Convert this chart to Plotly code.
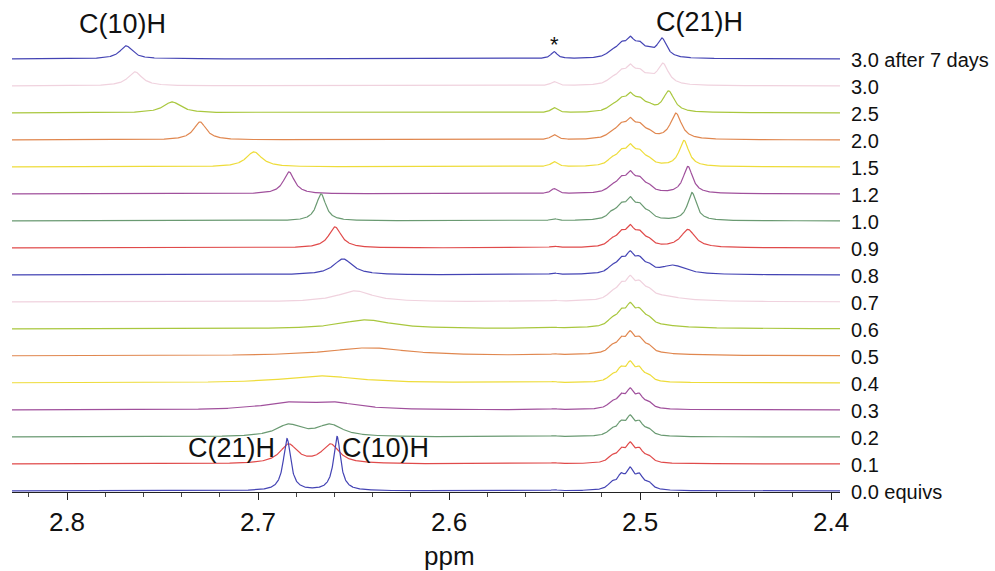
import numpy as np
import plotly.graph_objects as go

# ---------------- data ----------------
labels = ["0.0 equivs", "0.1", "0.2", "0.3", "0.4", "0.5", "0.6", "0.7", "0.8",
          "0.9", "1.0", "1.2", "1.5", "2.0", "2.5", "3.0", "3.0 after 7 days"]

# C(10)H resonance per spectrum: position (ppm), intensity, line width (ppm)
c10_ppm = [2.6586, 2.6620, 2.6623, 2.6600, 2.6670, 2.6420, 2.6435, 2.6492, 2.6555,
           2.6597, 2.6670, 2.6838, 2.7021, 2.7304, 2.7450, 2.7644, 2.7690]
c10_int = [54, 19, 11.6, 6.3, 7, 8, 9, 11, 16, 21, 27, 22, 15, 18, 11, 14, 13]
c10_fwhm = [0.0044, 0.011, 0.016, 0.030, 0.045, 0.050, 0.032, 0.022, 0.012,
            0.008, 0.006, 0.007, 0.010, 0.008, 0.011, 0.009, 0.008]

# C(21)H resonance per spectrum
c21_ppm = [2.6848, 2.6840, 2.6840, 2.6850, 2.6700, 2.5000, 2.4950, 2.4900, 2.4827,
           2.4749, 2.4728, 2.4749, 2.4770, 2.4812, 2.4850, 2.4880, 2.4885]
c21_int = [52, 19, 11.6, 6.3, 0, 2, 3, 5, 9, 18, 28, 27, 26, 26, 21, 21, 19]
c21_fwhm = [0.0046, 0.011, 0.016, 0.030, 0.040, 0.050, 0.040, 0.030, 0.016,
            0.009, 0.0055, 0.006, 0.006, 0.007, 0.007, 0.007, 0.006]

# residual DMSO quintet (~2.50 ppm)
dmso_ppm = [2.5148, 2.5100, 2.5052, 2.5004, 2.4956]
dmso_rel = [1, 2, 3, 2, 1]
dmso_int = [24, 22, 22, 22, 22, 23, 24, 24, 23, 23, 24, 23, 23, 22, 20, 21, 22]
dmso_fwhm = [0.0048, 0.005, 0.005, 0.005, 0.005, 0.0052, 0.0054, 0.0054, 0.0054,
             0.0055, 0.0055, 0.0056, 0.0056, 0.0057, 0.0057, 0.0057, 0.0057]

# small impurity peak marked with *
star_ppm = 2.5450
star_int = [1, 1, 1, 1, 1, 1, 1, 1, 1.5, 1.5, 2, 5, 5, 5, 5, 4, 7]

colors = ["#4444b4", "#e04a4a", "#6a9a72", "#a0509c", "#eedc3a", "#e0874f",
          "#a9c73e", "#f0d2de"]

# ---------------- build spectra ----------------
SPACING = 27.0  # intensity units between stacked spectra
x = np.linspace(2.8288, 2.3953, 2600)


def lor(x0, h, w):
    return h / (1.0 + ((x - x0) / (w / 2.0)) ** 2)


fig = go.Figure()
n = len(labels)
for i in reversed(range(n)):
    dm = sum(lor(p, r, dmso_fwhm[i]) for p, r in zip(dmso_ppm, dmso_rel))
    dm = dm / dm.max() * dmso_int[i]
    y = (lor(c10_ppm[i], c10_int[i], c10_fwhm[i])
         + lor(c21_ppm[i], c21_int[i], c21_fwhm[i])
         + dm + lor(star_ppm, star_int[i], 0.004))
    fig.add_trace(go.Scatter(x=x, y=i + y / SPACING, mode="lines",
                             line=dict(color=colors[i % len(colors)], width=1.2),
                             hoverinfo="skip", showlegend=False))

FONT = "Liberation Sans, Arial, Helvetica, sans-serif"
ann = []
for i, lab in enumerate(labels):
    ann.append(dict(x=1.0, xref="paper", y=i, yref="y", text=lab, showarrow=False,
                    xanchor="left", yanchor="middle", xshift=9, yshift=-1,
                    font=dict(family=FONT, size=20, color="#111")))

peak_labels = [("C(10)H", 2.7712, 17.30), ("C(21)H", 2.4686, 17.37),
               ("C(21)H", 2.7141, 1.59), ("C(10)H", 2.6330, 1.59)]
for t, px, py in peak_labels:
    ann.append(dict(x=px, y=py, xref="x", yref="y", text=t, showarrow=False,
                    xanchor="center", yanchor="middle",
                    font=dict(family=FONT, size=27, color="#111")))
ann.append(dict(x=star_ppm, y=16.55, xref="x", yref="y", text="*", showarrow=False,
                xanchor="center", yanchor="middle",
                font=dict(family=FONT, size=22, color="#111")))
ann.append(dict(x=2.5995, y=0, xref="x", yref="paper", text="ppm", showarrow=False,
                xanchor="center", yanchor="middle", yshift=-64,
                font=dict(family=FONT, size=26, color="#111")))

minor_vals = [round(v, 2) for v in np.arange(2.40, 2.83, 0.02)]

fig.update_layout(
    width=995, height=571,
    margin=dict(l=12, r=155, t=10, b=79),
    paper_bgcolor="white", plot_bgcolor="white",
    annotations=ann,
    xaxis=dict(range=[2.8288, 2.3953], tickvals=[2.8, 2.7, 2.6, 2.5, 2.4],
               ticktext=["2.8", "2.7", "2.6", "2.5", "2.4"],
               ticks="outside", ticklen=7, tickwidth=1, tickcolor="#222",
               showline=True, linecolor="#222", linewidth=1,
               showgrid=False, zeroline=False,
               tickfont=dict(family=FONT, size=26, color="#111"),
               minor=dict(tickvals=minor_vals, ticks="outside", ticklen=4,
                          tickcolor="#444", showgrid=False)),
    yaxis=dict(range=[-0.04, 17.81], visible=False, fixedrange=True),
)

fig.write_html("out.html")
